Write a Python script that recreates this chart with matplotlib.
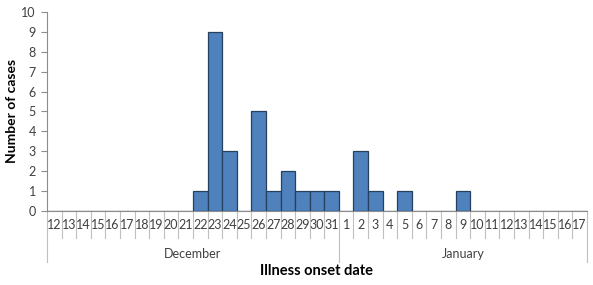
import matplotlib
matplotlib.use("Agg")
import matplotlib.pyplot as plt
import matplotlib.transforms as mtransforms

dec_days = [str(d) for d in range(12, 32)]
jan_days = [str(d) for d in range(1, 18)]
day_labels = dec_days + jan_days
months = ["December", "January"]
dec_cases = [0, 0, 0, 0, 0, 0, 0, 0, 0, 0, 1, 9, 3, 0, 5, 1, 2, 1, 1, 1]
jan_cases = [0, 3, 1, 0, 1, 0, 0, 0, 1, 0, 0, 0, 0, 0, 0, 0, 0]
cases = dec_cases + jan_cases

plt.rcParams['font.family'] = ['Lato', 'DejaVu Sans']

W, H = 593, 285
fig = plt.figure(figsize=(W / 100, H / 100), dpi=100)
left, right, top, bottom = 47, 587, 12, 211
ax = fig.add_axes([left / W, 1 - bottom / H, (right - left) / W, (bottom - top) / H])

x = list(range(len(cases)))
ax.bar(x, cases, width=1.0, color="#4F81BD", edgecolor="#26405F", linewidth=0.9, zorder=3)

n = len(cases)
ax.set_xlim(-0.5, n - 0.5)
ax.set_ylim(0, 10)
ax.set_yticks(range(0, 11))
ax.set_xticks([])
grey = "#8C8C8C"
ax.tick_params(axis='y', direction='out', length=4, width=0.8, color=grey,
               labelsize=9, labelcolor="#404040", pad=4)
for s in ["top", "right"]:
    ax.spines[s].set_visible(False)
ax.spines["left"].set_color(grey)
ax.spines["bottom"].set_color(grey)
ax.spines["left"].set_linewidth(0.8)
ax.spines["bottom"].set_linewidth(0.8)

tr = mtransforms.blended_transform_factory(ax.transData, ax.transAxes)
ah = bottom - top
def yfrac(py):
    return -(py - bottom) / ah

# day separators
for i in range(n + 1):
    xb = i - 0.5
    if i in (0, len(dec_days), n):
        y2 = yfrac(262)
    else:
        y2 = yfrac(238)
    ax.plot([xb, xb], [0, y2], color="#BFBFBF", lw=0.8, transform=tr, clip_on=False)

for i, lab in enumerate(day_labels):
    ax.text(i, yfrac(225), lab, transform=tr, ha="center", va="center",
            fontsize=9, color="#404040")

ax.text((len(dec_days) - 1) / 2, yfrac(254), months[0], transform=tr,
        ha="center", va="center", fontsize=9, color="#404040")
ax.text(len(dec_days) + (len(jan_days) - 1) / 2, yfrac(254), months[1], transform=tr,
        ha="center", va="center", fontsize=9, color="#404040")

fig.text(317 / W, 1 - 271 / H, "Illness onset date", ha="center", va="center",
         fontsize=10.5, fontweight="bold", color="#000000")
fig.text(12 / W, 1 - 111 / H, "Number of cases", ha="center", va="center",
         rotation=90, fontsize=10, fontweight="bold", color="#000000")

fig.savefig("out.png", dpi=100)
